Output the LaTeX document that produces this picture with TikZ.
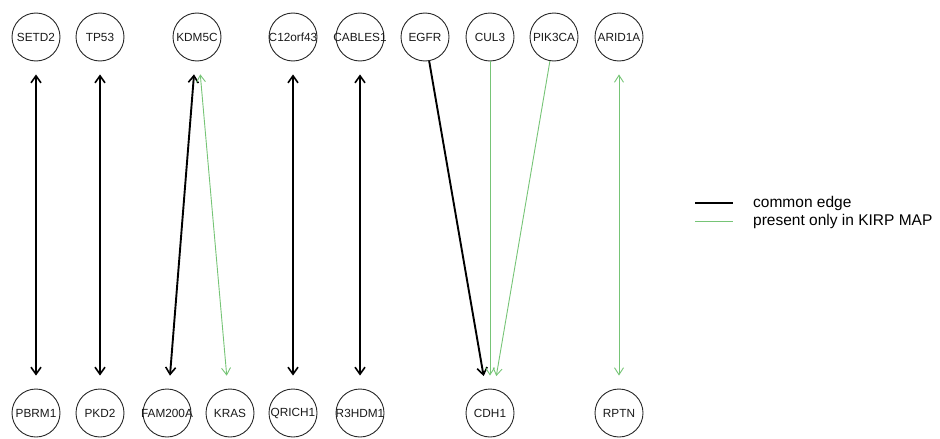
\documentclass[tikz,border=0pt]{standalone}
\usepackage{fontspec}
\setmainfont{Liberation Sans}
\usetikzlibrary{arrows.meta}
\definecolor{kirp}{RGB}{118,196,118}
\definecolor{ring}{RGB}{40,40,40}
% gene labels may overflow their fixed-size circle
\newcommand{\genelabel}[1]{\makebox[0pt][c]{#1}}
\tikzset{
  gene/.style={circle, draw=ring, line width=0.9pt, minimum size=48pt, inner sep=0pt,
    font=\fontsize{11.8}{12}\selectfont, text=black!90},
  common/.style={draw=black, line width=1.9pt,
    arrows={Straight Barb[length=7pt,width=10pt,line width=1.6pt]-Straight Barb[length=7pt,width=10pt,line width=1.6pt]}},
  kirponly/.style={draw=kirp, line width=0.9pt,
    arrows={Straight Barb[length=7pt,width=9pt,line width=0.9pt]-Straight Barb[length=7pt,width=9pt,line width=0.9pt]}},
  gapboth/.style={shorten <=13pt, shorten >=13pt},
  gaphead/.style={shorten >=13pt},
  legtext/.style={anchor=west, font=\fontsize{15.5}{16}\selectfont, inner sep=0pt}
}
\begin{document}
\begin{tikzpicture}[x=1pt, y=1pt]
\useasboundingbox (0,0) rectangle (940,-439);

% upper row of genes
\node[gene] (SETD2)    at (36,-37)  {\genelabel{SETD2}};
\node[gene] (TP53)     at (100,-37) {\genelabel{TP53}};
\node[gene] (KDM5C)    at (197,-37) {\genelabel{KDM5C}};
\node[gene] (C12orf43) at (293,-37) {\genelabel{C12orf43}};
\node[gene] (CABLES1)  at (360,-37) {\genelabel{CABLES1}};
\node[gene] (EGFR)     at (425,-37) {\genelabel{EGFR}};
\node[gene] (CUL3)     at (490,-37) {\genelabel{CUL3}};
\node[gene] (PIK3CA)   at (554,-37) {\genelabel{PIK3CA}};
\node[gene] (ARID1A)   at (619,-37) {\genelabel{ARID1A}};

% lower row of genes
\node[gene] (PBRM1)   at (36,-413)  {\genelabel{PBRM1}};
\node[gene] (PKD2)    at (100,-413) {\genelabel{PKD2}};
\node[gene] (FAM200A) at (167,-413) {\genelabel{FAM200A}};
\node[gene] (KRAS)    at (230,-413) {\genelabel{KRAS}};
\node[gene] (QRICH1)  at (293,-413) {\genelabel{QRICH1}};
\node[gene] (R3HDM1)  at (360,-413) {\genelabel{R3HDM1}};
\node[gene] (CDH1)    at (490,-413) {\genelabel{CDH1}};
\node[gene] (RPTN)    at (619,-413) {\genelabel{RPTN}};

% edges shared by both maps
\draw[common, gapboth] (SETD2) -- (PBRM1);
\draw[common, gapboth] (TP53) -- (PKD2);
\draw[common, gapboth] (KDM5C) -- (FAM200A);
\draw[common, gapboth] (C12orf43) -- (QRICH1);
\draw[common, gapboth] (CABLES1) -- (R3HDM1);
\draw[common, gaphead, arrows={-Straight Barb[length=7pt,width=10pt,line width=1.6pt]}] (EGFR) -- (CDH1);

% edges only in the KIRP map
\draw[kirponly, gapboth] (KDM5C) -- (KRAS);
\draw[kirponly, gapboth] (ARID1A) -- (RPTN);
\draw[kirponly, gaphead, arrows={-Straight Barb[length=7pt,width=9pt,line width=0.9pt]}] (CUL3) -- (CDH1);
\draw[kirponly, gaphead, arrows={-Straight Barb[length=7pt,width=9pt,line width=0.9pt]}] (PIK3CA) -- (CDH1);

% legend
\coordinate (l1a) at (695,-203);
\coordinate (l1b) at (733,-203);
\coordinate (l2a) at (695,-221);
\coordinate (l2b) at (733,-221);
\draw[black, line width=1.9pt] (l1a) -- (l1b);
\draw[kirp, line width=0.9pt] (l2a) -- (l2b);
\node[legtext] (t1) at (753,-203) {common edge};
\node[legtext] (t2) at (753,-221) {present only in KIRP MAP};
\end{tikzpicture}
\end{document}
